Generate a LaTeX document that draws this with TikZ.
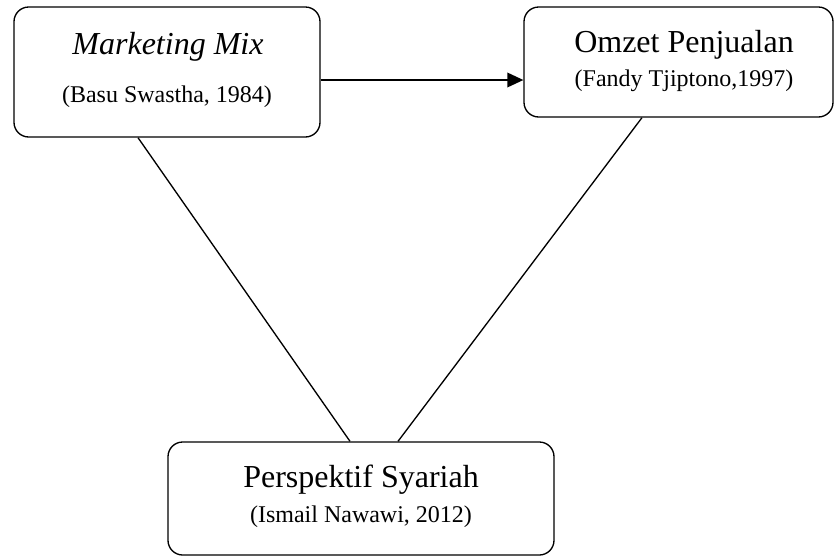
\documentclass[tikz,border=0pt]{standalone}
\usepackage{fontspec}
\setmainfont{Liberation Serif}
\usetikzlibrary{arrows.meta}
\begin{document}
\begin{tikzpicture}[x=0.75pt,y=-0.75pt,
 box/.style={draw,rounded corners=11pt,line width=1pt,inner sep=0pt},
 ttl/.style={anchor=base,inner sep=0pt,font=\fontsize{24}{28}\selectfont},
 src/.style={anchor=base,inner sep=0pt,font=\fontsize{18}{22}\selectfont},
 arr/.style={line width=1pt,-{Triangle[length=12pt,width=11pt]}}]
 \useasboundingbox (0,0) rectangle (835,558);
 \node[box,minimum width=229.5pt,minimum height=97.5pt] (mm) at (167,72) {};
 \node[box,minimum width=231.75pt,minimum height=82.5pt] (oz) at (678.5,62) {};
 \node[box,minimum width=289.5pt,minimum height=84.75pt] (ps) at (361,498.5) {};
 \node[ttl] (mmT) at (168,54) {\itshape Marketing Mix};
 \node[src] (mmS) at (167,102) {(Basu Swastha, 1984)};
 \node[ttl] (ozT) at (684,52) {Omzet Penjualan};
 \node[src] (ozS) at (684,86) {(Fandy Tjiptono,1997)};
 \node[ttl] (psT) at (361,487) {Perspektif Syariah};
 \node[src] (psS) at (361,522) {(Ismail Nawawi, 2012)};
 % arrow and the two links down to the bottom box
 \draw[arr] ([yshift=-6pt]mm.east) coordinate (a) -- (a -| oz.west);
 \foreach \a/\da/\db in {mm/-21.75pt/-8.25pt,oz/-27.4pt/27.75pt}
  \draw[line width=1pt] ([xshift=\da]\a.south) -- ([xshift=\db]ps.north);
\end{tikzpicture}
\end{document}
